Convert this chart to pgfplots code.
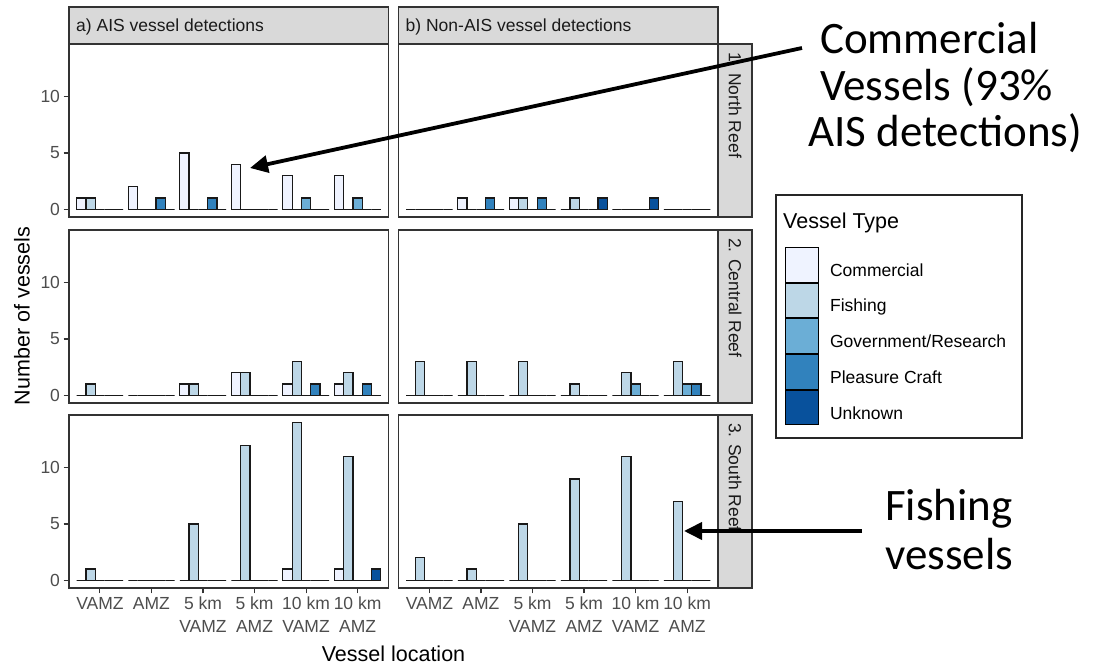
\documentclass[border=0pt]{standalone}
\usepackage{pgfplots}
\pgfplotsset{compat=1.18}
\usepackage{pgfplotstable}
\usepackage{fontspec}
\setmainfont{Liberation Sans}
\newfontfamily\calibri{Carlito}
\usetikzlibrary{arrows.meta}

\definecolor{cC}{HTML}{EFF3FF}
\definecolor{cF}{HTML}{BDD7E7}
\definecolor{cG}{HTML}{6BAED6}
\definecolor{cP}{HTML}{3182BD}
\definecolor{cU}{HTML}{08519C}
\definecolor{g10}{HTML}{1A1A1A}
\definecolor{g20}{HTML}{333333}
\definecolor{g30}{HTML}{4D4D4D}
\definecolor{stripbg}{HTML}{D9D9D9}

\newcommand\sm{\fontsize{17.5}{23}\selectfont}
\newcommand\bg{\fontsize{21.5}{26}\selectfont}

% North Reef, AIS
\pgfplotstableread{
x C F G P U
1 1 1 0 0 0
2 2 0 0 1 0
3 5 0 0 1 0
4 4 0 0 0 0
5 3 0 1 0 0
6 3 0 1 0 0
}\tNa
% North Reef, non-AIS
\pgfplotstableread{
x C F G P U
1 0 0 0 0 0
2 1 0 0 1 0
3 1 1 0 1 0
4 0 1 0 0 1
5 0 0 0 0 1
6 0 0 0 0 0
}\tNb
% Central Reef, AIS
\pgfplotstableread{
x C F G P U
1 0 1 0 0 0
2 0 0 0 0 0
3 1 1 0 0 0
4 2 2 0 0 0
5 1 3 0 1 0
6 1 2 0 1 0
}\tCa
% Central Reef, non-AIS
\pgfplotstableread{
x C F G P U
1 0 3 0 0 0
2 0 3 0 0 0
3 0 3 0 0 0
4 0 1 0 0 0
5 0 2 1 0 0
6 0 3 1 1 0
}\tCb
% South Reef, AIS
\pgfplotstableread{
x C F G P U
1 0 1 0 0 0
2 0 0 0 0 0
3 0 5 0 0 0
4 0 12 0 0 0
5 1 14 0 0 0
6 1 11 0 0 1
}\tSa
% South Reef, non-AIS
\pgfplotstableread{
x C F G P U
1 0 2 0 0 0
2 0 1 0 0 0
3 0 5 0 0 0
4 0 9 0 0 0
5 0 11 0 0 0
6 0 7 0 0 0
}\tSb

\pgfplotsset{
 panel/.style={scale only axis, width=319.5pt, height=173pt, anchor=south west,
  xmin=0.4, xmax=6.6, ymin=-0.7, ymax=14.7,
  axis line style={g20, line width=1.1pt},
  tick align=outside, xtick pos=left, ytick pos=left, major tick length=5.5pt,
  tick style={g20, line width=1.1pt},
  xtick=\empty, ytick=\empty,
  /pgf/number format/assume math mode=true,
  tick label style={font=\sm, text=g30},
 },
 ylab/.style={ytick={0,5,10}},
 xlab/.style={xtick={1,2,3,4,5,6},
  xticklabels={VAMZ,AMZ,{5 km\\VAMZ},{5 km\\AMZ},{10 km\\VAMZ},{10 km\\AMZ}},
  xticklabel style={align=center}},
 vbar/.style={ybar, bar width=0.18, bar shift=0pt, draw=black!90, line width=1.25pt},
 keyimg/.style={legend image code/.code={\draw[fill=#1, draw=black, line width=1.1pt] (0pt,-11.5pt) rectangle (33pt,23.1pt);}},
}

\newcommand\fivebars[1]{%
 \addplot[vbar, fill=cC] table[x expr=\thisrow{x}-0.36, y=C] {#1};
 \addplot[vbar, fill=cF] table[x expr=\thisrow{x}-0.18, y=F] {#1};
 \addplot[vbar, fill=cG] table[x expr=\thisrow{x}, y=G] {#1};
 \addplot[vbar, fill=cP] table[x expr=\thisrow{x}+0.18, y=P] {#1};
 \addplot[vbar, fill=cU] table[x expr=\thisrow{x}+0.36, y=U] {#1};
}

\begin{document}
\begin{tikzpicture}
\path[use as bounding box] (0pt,0pt) rectangle (1097pt,668pt);

\begin{axis}[panel, ylab, at={(69pt,451pt)}]
 \fivebars{\tNa}
\end{axis}
\begin{axis}[panel, at={(398.5pt,451pt)}]
 \fivebars{\tNb}
\end{axis}
\begin{axis}[panel, ylab, at={(69pt,265pt)}]
 \fivebars{\tCa}
\end{axis}
\begin{axis}[panel, at={(398.5pt,265pt)}]
 \fivebars{\tCb}
\end{axis}
\begin{axis}[panel, ylab, xlab, at={(69pt,80pt)}]
 \fivebars{\tSa}
\end{axis}
\begin{axis}[panel, xlab, at={(398.5pt,80pt)}]
 \fivebars{\tSb}
\end{axis}

% legend keys
\begin{axis}[hide axis, scale only axis, width=20pt, height=20pt, anchor=north west,
  at={(785pt,421pt)}, xmin=0, xmax=1, ymin=0, ymax=1,
  legend cell align=left,
  legend style={at={(0,1)}, anchor=north west, draw=none, fill=none,
    inner sep=0pt, outer sep=0pt, row sep=0pt, column sep=11pt,
    font=\sm, text=black, nodes={inner sep=0pt}}]
 \addlegendimage{keyimg=cC}\addlegendentry{Commercial}
 \addlegendimage{keyimg=cF}\addlegendentry{Fishing}
 \addlegendimage{keyimg=cG}\addlegendentry{Government/Research}
 \addlegendimage{keyimg=cP}\addlegendentry{Pleasure Craft}
 \addlegendimage{keyimg=cU}\addlegendentry{Unknown}
\end{axis}

\begin{scope}[x=1pt, y=1pt]
 % strips
 \draw[g20, line width=1.1pt, fill=stripbg] (69,624) rectangle (388.5,661);
 \draw[g20, line width=1.1pt, fill=stripbg] (398.5,624) rectangle (718,661);
 \draw[g20, line width=1.1pt, fill=stripbg] (718,451) rectangle (752,624);
 \draw[g20, line width=1.1pt, fill=stripbg] (718,265) rectangle (752,438);
 \draw[g20, line width=1.1pt, fill=stripbg] (718,80) rectangle (752,253);
 \node[anchor=base west, inner sep=0pt, font=\sm, text=g10] at (76,636) {a) AIS vessel detections};
 \node[anchor=base west, inner sep=0pt, font=\sm, text=g10] at (405.5,636) {b) Non-AIS vessel detections};
 \node[rotate=-90, anchor=west, inner sep=0pt, font=\sm, text=g10] at (735,616) {1. North Reef};
 \node[rotate=-90, anchor=west, inner sep=0pt, font=\sm, text=g10] at (735,430) {2. Central Reef};
 \node[rotate=-90, anchor=west, inner sep=0pt, font=\sm, text=g10] at (735,245) {3. South Reef};

 % axis titles
 \node[anchor=base, inner sep=0pt, font=\bg] at (393.5,6) {Vessel location};
 \node[rotate=90, anchor=center, inner sep=0pt, font=\bg] at (22,352) {Number of vessels};

 % legend frame and title
 \draw[black!85, line width=1.1pt] (776,473) rectangle (1022,230);
 \node[anchor=base west, inner sep=0pt, font=\bg] at (783,439) {Vessel Type};

 % annotations
 \node[anchor=base west, inner sep=0pt, font=\calibri\fontsize{45}{50}\selectfont] at (820,614) {Commercial};
 \node[anchor=base west, inner sep=0pt, font=\calibri\fontsize{45}{50}\selectfont] at (820,567.5) {Vessels (93\%};
 \node[anchor=base west, inner sep=0pt, font=\calibri\fontsize{45}{50}\selectfont] at (808,521) {AIS detections)};
 \node[anchor=base, inner sep=0pt, font=\calibri\fontsize{45}{50}\selectfont] at (949,147) {Fishing};
 \node[anchor=base, inner sep=0pt, font=\calibri\fontsize{45}{50}\selectfont] at (949,98) {vessels};

 \draw[line width=3.8pt, -{Triangle[length=18pt, width=17pt]}] (802,620) -- (250,500);
 \draw[line width=3.8pt, -{Triangle[length=18pt, width=17pt]}] (862,137) -- (684,137);
\end{scope}
\end{tikzpicture}
\end{document}
